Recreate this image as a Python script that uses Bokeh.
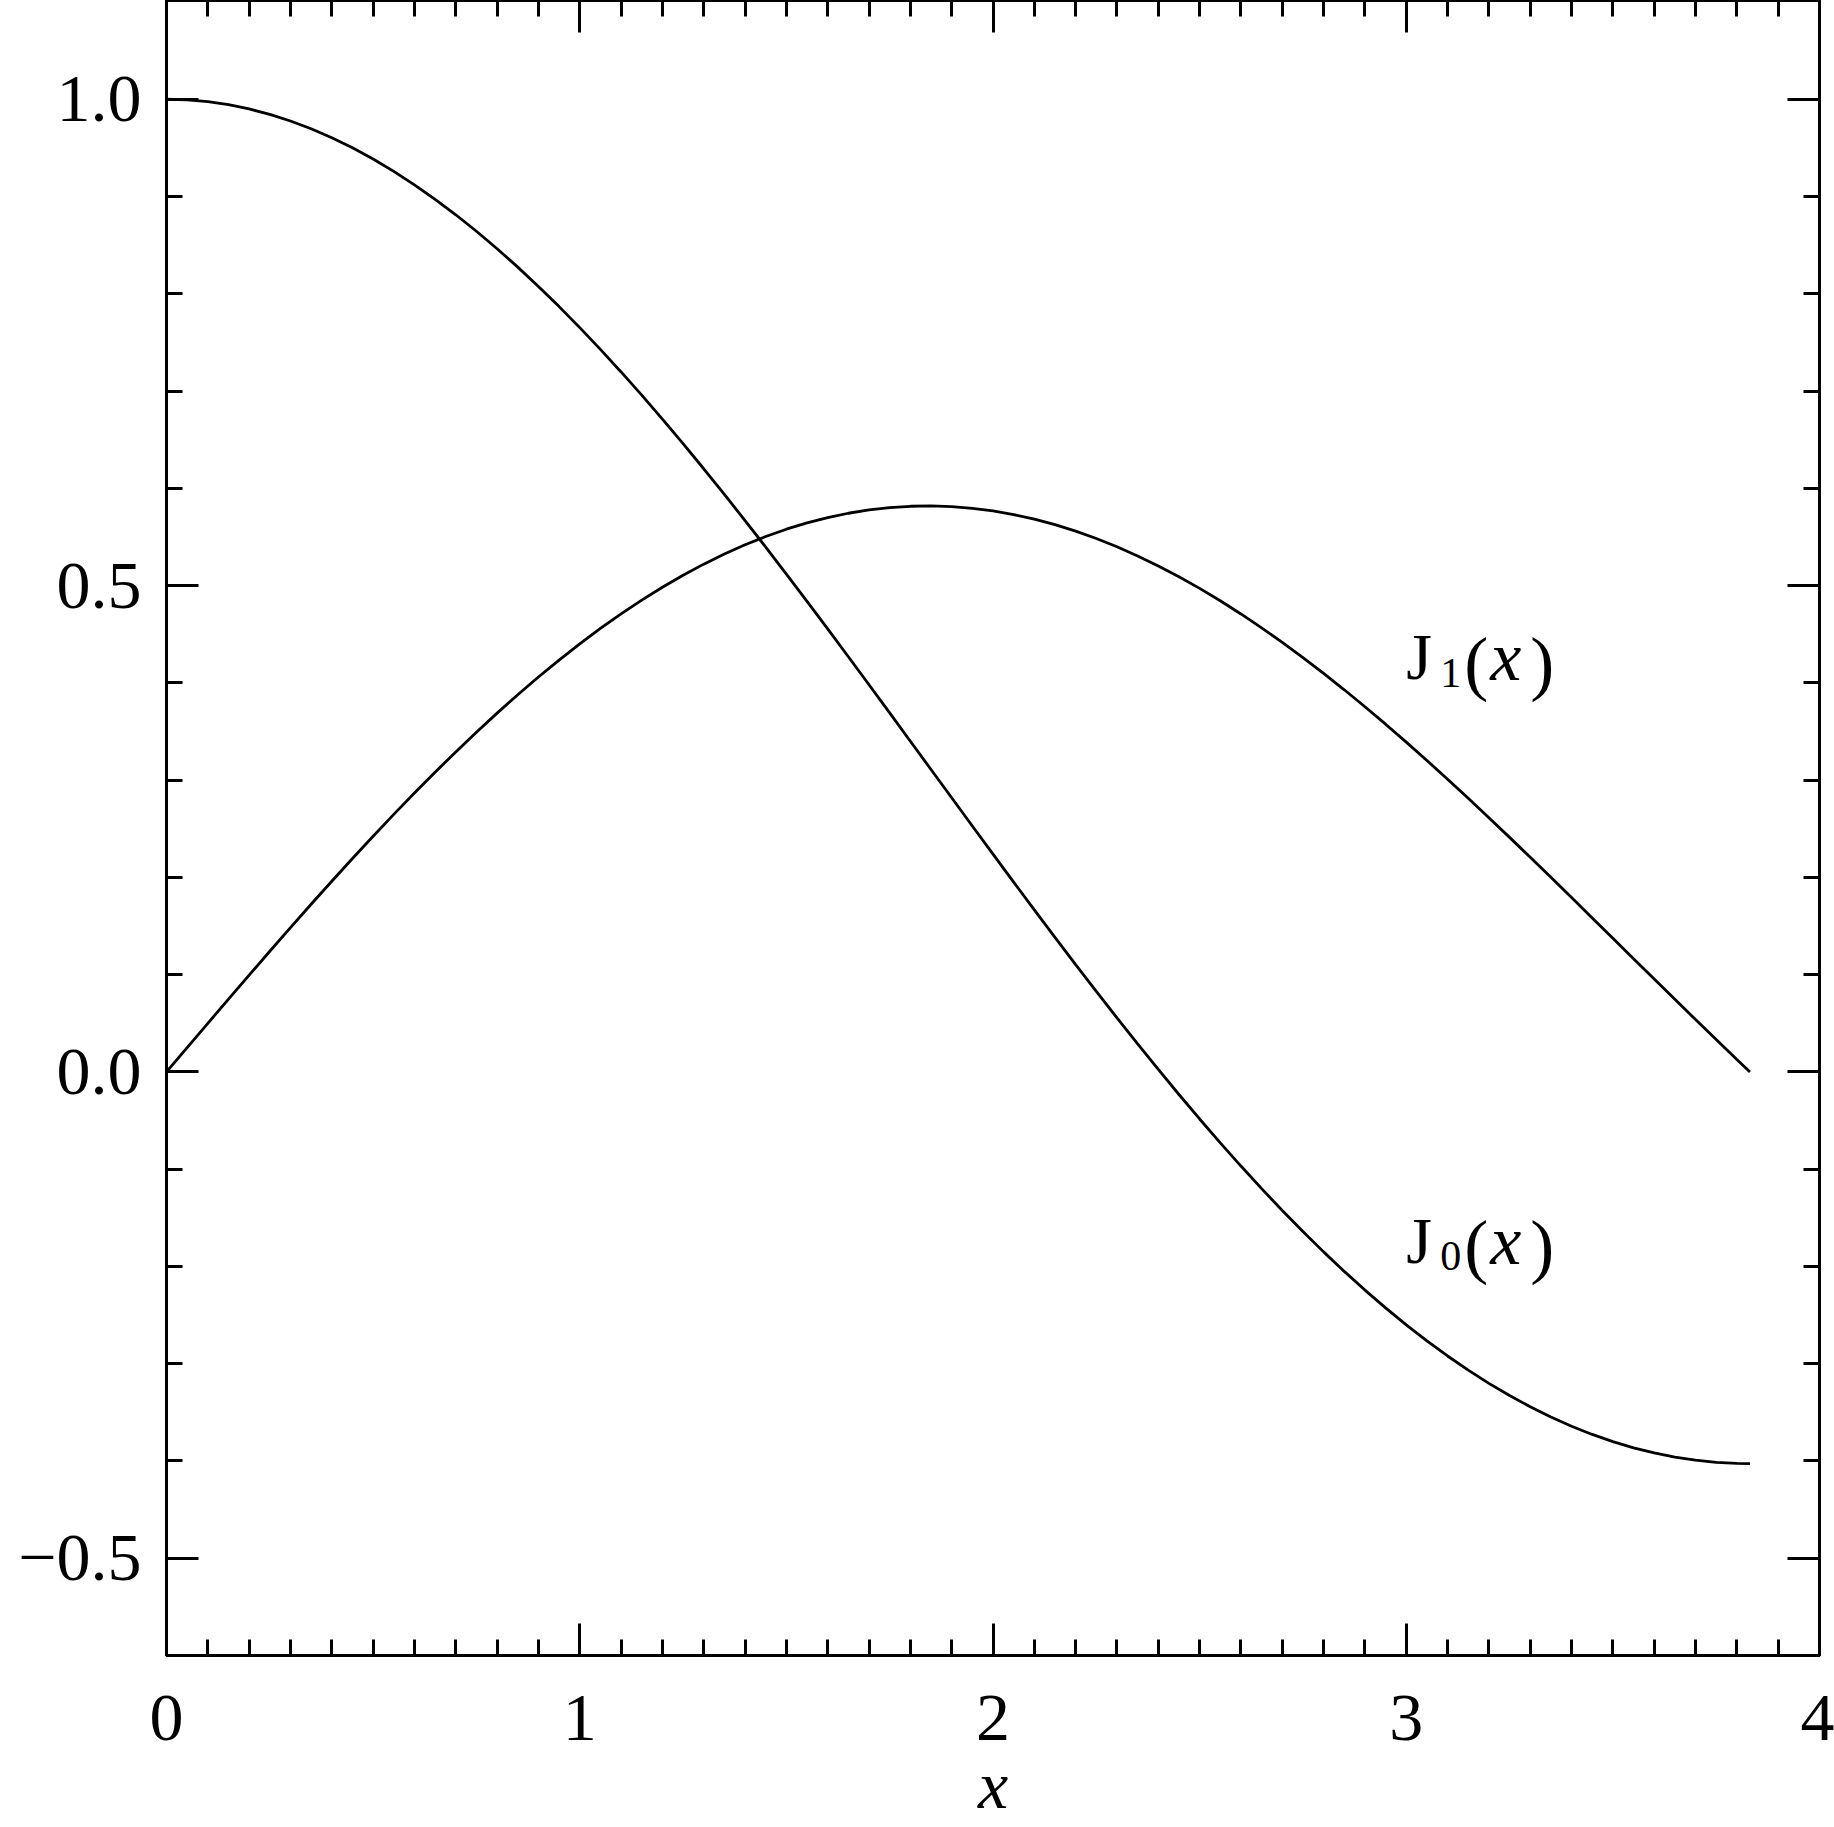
from bokeh.plotting import figure
from bokeh.models import LinearAxis, FixedTicker, Range1d, ColumnDataSource
from bokeh.core.properties import value
from bokeh.embed import file_html
from bokeh.resources import INLINE

# ---- data (J0 and J1 Bessel curves) ----
x_vals = [0.00, 0.05, 0.10, 0.15, 0.20, 0.25, 0.30, 0.35, 0.40, 0.45,
          0.50, 0.55, 0.60, 0.65, 0.70, 0.75, 0.80, 0.85, 0.90, 0.95,
          1.00, 1.05, 1.10, 1.15, 1.20, 1.25, 1.30, 1.35, 1.40, 1.45,
          1.50, 1.55, 1.60, 1.65, 1.70, 1.75, 1.80, 1.85, 1.90, 1.95,
          2.00, 2.05, 2.10, 2.15, 2.20, 2.25, 2.30, 2.35, 2.40, 2.45,
          2.50, 2.55, 2.60, 2.65, 2.70, 2.75, 2.80, 2.85, 2.90, 2.95,
          3.00, 3.05, 3.10, 3.15, 3.20, 3.25, 3.30, 3.35, 3.40, 3.45,
          3.50, 3.55, 3.60, 3.65, 3.70, 3.75, 3.80, 3.8317]
j0_vals = [1.0, 0.999375, 0.997502, 0.994383, 0.990025, 0.984436, 0.977626, 0.969608, 0.960398, 0.950012,
           0.938470, 0.925793, 0.912005, 0.897132, 0.881201, 0.864242, 0.846287, 0.827369, 0.807524, 0.786787,
           0.765198, 0.742796, 0.719622, 0.695720, 0.671133, 0.645906, 0.620086, 0.593720, 0.566855, 0.539542,
           0.511828, 0.483764, 0.455402, 0.426792, 0.397985, 0.369032, 0.339986, 0.310898, 0.281819, 0.252800,
           0.223891, 0.195143, 0.166607, 0.138331, 0.110362, 0.082749, 0.055540, 0.028777, 0.002508, -0.023227,
           -0.048384, -0.072923, -0.096805, -0.119992, -0.142449, -0.164142, -0.185036, -0.205102, -0.224311, -0.242636,
           -0.260052, -0.276535, -0.292064, -0.306621, -0.320188, -0.332751, -0.344296, -0.354815, -0.364296, -0.372735,
           -0.380128, -0.386473, -0.391769, -0.396020, -0.399230, -0.401406, -0.402556, -0.402759]
j1_vals = [0.0, 0.024992, 0.049938, 0.074789, 0.099501, 0.124026, 0.148319, 0.172334, 0.196027, 0.219353,
           0.242268, 0.264732, 0.286701, 0.308135, 0.328996, 0.349244, 0.368842, 0.387756, 0.405950, 0.423392,
           0.440051, 0.455897, 0.470902, 0.485041, 0.498289, 0.510623, 0.522023, 0.532470, 0.541948, 0.550441,
           0.557937, 0.564425, 0.569896, 0.574344, 0.577765, 0.580156, 0.581517, 0.581849, 0.581157, 0.579446,
           0.576725, 0.573003, 0.568292, 0.562607, 0.555963, 0.548378, 0.539873, 0.530467, 0.520185, 0.509052,
           0.497094, 0.484339, 0.470818, 0.456562, 0.441601, 0.425972, 0.409709, 0.392848, 0.375427, 0.357475,
           0.339059, 0.320192, 0.300921, 0.281292, 0.261343, 0.241119, 0.220663, 0.200013, 0.179226, 0.158331,
           0.137378, 0.116406, 0.095466, 0.074593, 0.053834, 0.033324, 0.012821, 0.0]

x_ticks = [0, 1, 2, 3, 4]
x_tick_labels = ["0", "1", "2", "3", "4"]
y_ticks = [-0.5, 0.0, 0.5, 1.0]
y_tick_labels = ["\u22120.5", "0.0", "0.5", "1.0"]
x_title = "x"

label_x = [3.0, 3.0]
label_y = [0.4, -0.2]
label_sub = ["1", "0"]

# ---- figure ----
p = figure(width=1834, height=1827, output_backend="svg", toolbar_location=None,
           x_range=Range1d(0, 4), y_range=Range1d(-0.6, 1.1015),
           min_border_left=166, min_border_right=15, min_border_top=0,
           min_border_bottom=172, x_axis_label=x_title)
p.grid.visible = False
p.outline_line_color = "black"
p.outline_line_width = 3
p.background_fill_color = "white"
p.border_fill_color = "white"

bottom_ax = p.below[0]
left_ax = p.left[0]

serif = "Liberation Serif"
xminor = [i / 10 for i in range(0, 41) if i % 10 != 0]
yminor = [i / 10 for i in range(-6, 11) if i % 5 != 0]

top_ax = LinearAxis()
right_ax = LinearAxis()
p.add_layout(top_ax, "above")
p.add_layout(right_ax, "right")

for ax in [bottom_ax, top_ax]:
    ax.ticker = FixedTicker(ticks=x_ticks, minor_ticks=xminor)
for ax in [left_ax, right_ax]:
    ax.ticker = FixedTicker(ticks=y_ticks, minor_ticks=yminor)

for ax in [bottom_ax, left_ax, top_ax, right_ax]:
    ax.axis_line_width = 3
    ax.axis_line_color = "black"
    ax.major_tick_in = 32
    ax.major_tick_out = 0
    ax.minor_tick_in = 16
    ax.minor_tick_out = 0
    ax.major_tick_line_width = 3
    ax.minor_tick_line_width = 3
    ax.major_label_text_font = serif
    ax.major_label_text_font_size = "68px"
    ax.major_label_text_color = "black"

for ax in [top_ax, right_ax]:
    ax.major_label_text_font_size = "0px"
    ax.major_label_text_alpha = 0
    ax.major_label_standoff = 0

bottom_ax.major_label_overrides = dict(zip(x_ticks, x_tick_labels))
left_ax.major_label_overrides = dict(zip(y_ticks, y_tick_labels))
bottom_ax.major_label_standoff = 40
left_ax.major_label_standoff = 25
bottom_ax.axis_label_text_font = serif
bottom_ax.axis_label_text_font_style = "italic"
bottom_ax.axis_label_text_font_size = "68px"
bottom_ax.axis_label_text_color = "black"
bottom_ax.axis_label_standoff = 4

src = ColumnDataSource(dict(x=x_vals, j0=j0_vals, j1=j1_vals))
p.line("x", "j0", source=src, line_color="black", line_width=2.8)
p.line("x", "j1", source=src, line_color="black", line_width=2.8)

lsrc = ColumnDataSource(dict(x=label_x, y=label_y, sub=label_sub,
                             J=["J", "J"], lp=["(", "("], xx=["x", "x"], rp=[")", ")"]))
common = dict(source=lsrc, text_color="black", text_align="left", text_baseline="alphabetic",
              text_font=value(serif))
dy = -26
p.text(x="x", y="y", text="J", text_font_size="66px", y_offset=dy, **common)
p.text(x="x", y="y", text="sub", text_font_size="42px", x_offset=34, y_offset=dy + 16, **common)
p.text(x="x", y="y", text="lp", text_font_size="72px", x_offset=58, y_offset=dy + 6, **common)
p.text(x="x", y="y", text="xx", text_font_size="70px", text_font_style="italic", x_offset=84, y_offset=dy, **common)
p.text(x="x", y="y", text="rp", text_font_size="72px", x_offset=124, y_offset=dy + 6, **common)

open("out.html", "w").write(file_html(p, INLINE))
